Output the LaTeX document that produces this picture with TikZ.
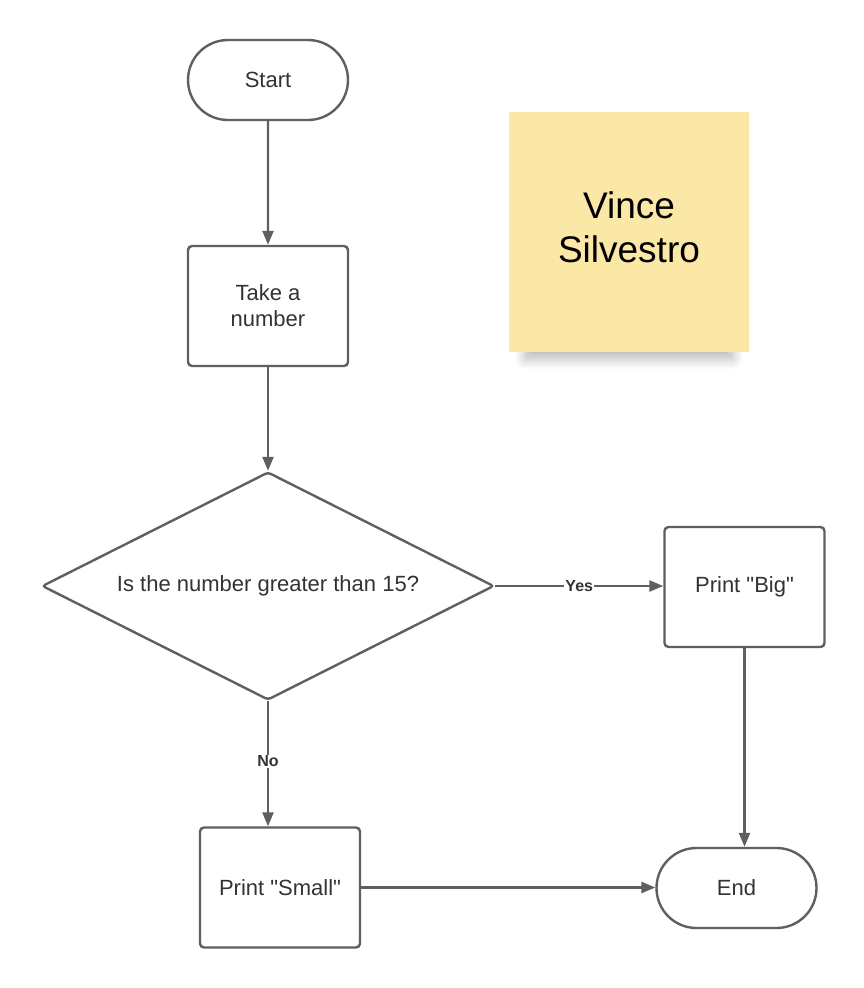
\documentclass[tikz,border=0pt]{standalone}
\usepackage{fontspec}
\setmainfont{Liberation Sans}
\newfontfamily\flowfont{Liberation Sans}
\usetikzlibrary{shapes.geometric, shapes.misc, arrows.meta, shadows.blur, positioning}
\definecolor{lineg}{HTML}{5F5F5F}
\definecolor{textg}{HTML}{333333}
\definecolor{notey}{HTML}{FCE8A6}
\tikzset{
  base/.style={draw=lineg, line width=2.4pt, fill=white, text=textg, align=center, inner sep=0pt,
    font=\flowfont\fontsize{22}{26}\selectfont},
  term/.style={base, rounded rectangle, minimum width=160pt, minimum height=80pt},
  proc/.style={base, rectangle, rounded corners=4pt, minimum width=160pt, minimum height=120pt},
  dec/.style={base, diamond, shape aspect=1.98, rounded corners=3pt, minimum width=452pt, minimum height=228pt},
  flow/.style={draw=lineg, line width=2.4pt, -{Triangle[length=14pt, width=11pt]}},
  lab/.style={fill=white, text=textg, inner sep=1pt, font=\fontsize{16}{18}\selectfont\bfseries},
  sticky/.style={fill=notey, minimum width=240pt, minimum height=240pt, inner sep=0pt,
    blur shadow={shadow xshift=0pt, shadow yshift=-27pt, shadow scale=0.86, shadow blur radius=13pt,
      shadow opacity=30, shadow blur steps=16}},
  stickytext/.style={align=center, inner sep=0pt, font=\fontsize{37}{44}\selectfont}
}
\begin{document}
\begin{tikzpicture}[x=1pt, y=-1pt]
\useasboundingbox (0, 0) rectangle (864, 988);
\node [term] (start) at (268, 80) {Start};
\node [proc] (take) at (268, 306) {Take a\\number};
\node [dec] (test) at (268, 586) {Is the number greater than 15?};
\node [proc] (big) at (744.5, 587) {Print "Big"};
\node [proc] (small) at (280, 887.5) {Print "Small"};
\node [term] (end) at (736.5, 888) {End};
\node [sticky] (note) at (629, 232) {};
\node [stickytext, yshift=5pt] (name) at (note.center) {Vince\\Silvestro};
\draw [flow] (start) -- (take);
\draw [flow] (take) -- (test);
\draw [flow] (test.east) -- node [lab] {Yes} (big.west |- test.east);
\draw [flow] (test.south) -- node [lab, pos=0.48] {No} (test.south |- small.north);
\draw [flow] (big.south) -- (big.south |- end.north);
\draw [flow] (small.east) -- (end.west |- small.east);
\end{tikzpicture}
\end{document}
